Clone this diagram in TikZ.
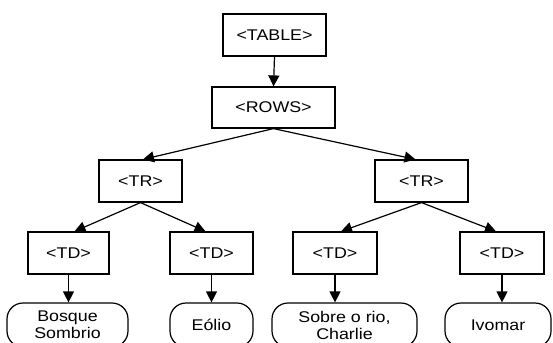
\documentclass[tikz,border=0pt]{standalone}
\usepackage{fontspec}
\setmainfont[FakeStretch=1.15]{Liberation Sans}
\usetikzlibrary{arrows.meta}
\begin{document}
\begin{tikzpicture}[x=1pt,y=-1pt,
  every node/.style={font=\fontsize{15.5}{17}\selectfont, inner sep=0pt},
  box/.style={draw, line width=1.2pt, minimum height=42pt},
  leaf/.style={draw, line width=1.2pt, rounded corners=16pt, minimum height=44pt, align=center},
  conn/.style={line width=1.2pt, -{Triangle[width=11pt,length=11pt]}}]
\fill[white] (0,0) rectangle (553,342);
\useasboundingbox (0,0) rectangle (553,342);
\node[box, minimum width=103pt] (table) at (274.5,35) {<TABLE>};
\node[box, minimum width=123pt, minimum height=41pt] (rows) at (273.5,107.5) {<ROWS>};
\node[box, minimum width=83pt] (trL) at (140.5,181) {<TR>};
\node[box, minimum width=93pt] (trR) at (421.5,181) {<TR>};
\node[box, minimum width=81pt] (tdA) at (68.5,253) {<TD>};
\node[box, minimum width=83pt] (tdB) at (211.5,253) {<TD>};
\node[box, minimum width=84pt] (tdC) at (335,253) {<TD>};
\node[box, minimum width=84pt] (tdD) at (502,253) {<TD>};
\begin{scope}
\clip (0,0) rectangle (553,342);
\node[leaf, minimum width=121pt] (leafA) at (67.5,325) {Bosque\\Sombrio};
\node[leaf, minimum width=83pt] (leafB) at (211.5,325) {Eólio};
\node[leaf, minimum width=145pt] (leafC) at (344.5,325) {Sobre o rio,\\Charlie};
\node[leaf, minimum width=106pt] (leafD) at (498,325) {Ivomar};
\end{scope}
\draw[conn] (table.south) -- (rows.north);
\draw[conn] (rows.south) -- ([xshift=2.5pt]trL.north);
\draw[conn] (rows.south) -- ([xshift=-6pt]trR.north);
\draw[conn] (trL.south) -- ([xshift=6pt]tdA.north);
\draw[conn] (trL.south) -- ([xshift=-6pt]tdB.north);
\draw[conn] (trR.south) -- ([xshift=6pt]tdC.north);
\draw[conn] (trR.south) -- ([xshift=-6pt]tdD.north);
\draw[conn] (tdA.south) -- (tdA.south |- leafA.north);
\draw[conn] (tdB.south) -- (tdB.south |- leafB.north);
\draw[conn] (tdC.south) -- (tdC.south |- leafC.north);
\draw[conn] (tdD.south) -- (tdD.south |- leafD.north);
\end{tikzpicture}
\end{document}
